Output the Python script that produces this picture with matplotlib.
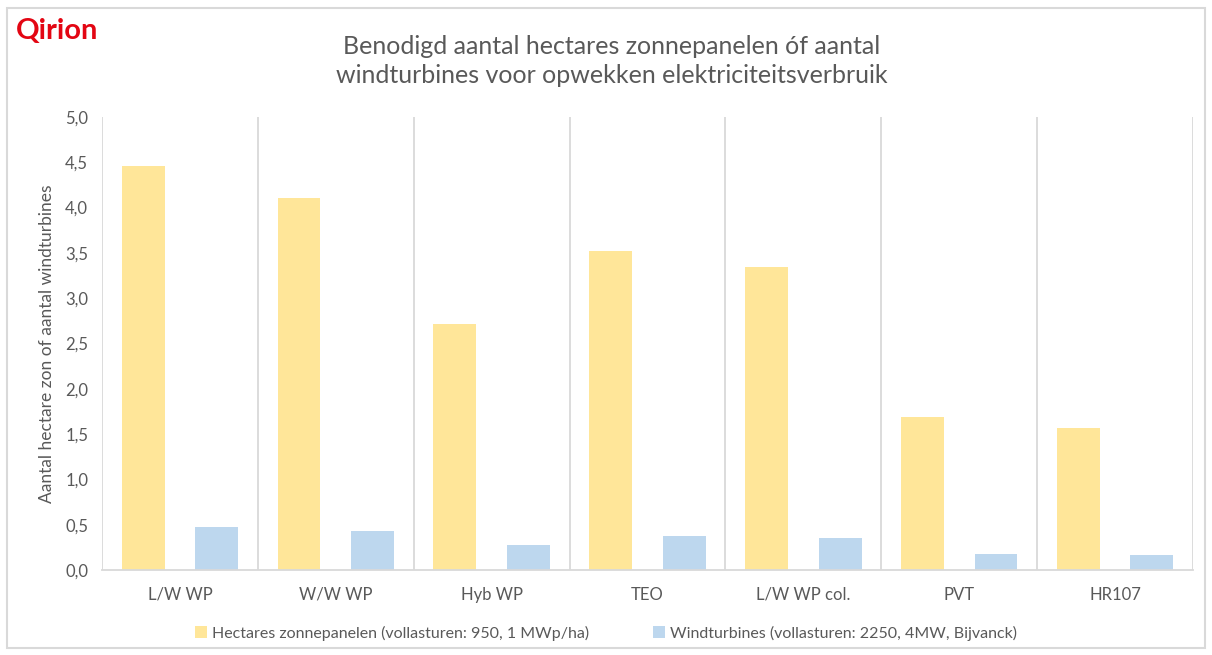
import matplotlib.pyplot as plt
import numpy as np
from matplotlib.patches import Rectangle

# data
categorieen = ["L/W WP", "W/W WP", "Hyb WP", "TEO", "L/W WP col.", "PVT", "HR107"]
zon_ha = [4.46, 4.11, 2.72, 3.52, 3.34, 1.69, 1.57]
windturbines = [0.47, 0.43, 0.28, 0.37, 0.35, 0.18, 0.165]
yticks = [0.0, 0.5, 1.0, 1.5, 2.0, 2.5, 3.0, 3.5, 4.0, 4.5, 5.0]
label_zon = "Hectares zonnepanelen (vollasturen: 950, 1 MWp/ha)"
label_wind = "Windturbines (vollasturen: 2250, 4MW, Bijvanck)"

plt.rcParams['font.family'] = ['Lato', 'DejaVu Sans']
grijs = "#595959"
lijn = "#d9d9d9"

fig = plt.figure(figsize=(12.12, 6.55), dpi=100)
ax = fig.add_axes([0.0842, 0.1298, 0.9001, 0.6916])

x = np.arange(len(categorieen))
b = 0.275
ax.bar(x - 0.236, zon_ha, b, color="#FFE699", label=label_zon, zorder=2)
ax.bar(x + 0.236, windturbines, b, color="#BDD7EE", label=label_wind, zorder=2)

ax.set_xlim(-0.5, len(categorieen) - 0.5)
ax.set_ylim(0, 5.0)
ax.set_yticks(yticks)
ax.set_yticklabels([f"{v:.1f}".replace(".", ",") for v in yticks])
ax.set_xticks(x)
ax.set_xticklabels(categorieen)
ax.tick_params(length=0, colors=grijs, labelsize=12)
ax.tick_params(axis="x", pad=12)
ax.tick_params(axis="y", pad=10)

# scheidingslijnen tussen categorieen
for s in np.arange(-0.5, len(categorieen), 1.0):
    ax.axvline(s, color=lijn, lw=1.3, zorder=1)

for k in ["top", "right", "left"]:
    ax.spines[k].set_visible(False)
ax.spines["bottom"].set_color(lijn)
ax.spines["bottom"].set_linewidth(1.3)

ax.set_ylabel("Aantal hectare zon of aantal windturbines", fontsize=12.5, color=grijs, labelpad=7)

fig.text(0.5045, 0.907, "Benodigd aantal hectares zonnepanelen óf aantal\nwindturbines voor opwekken elektriciteitsverbruik",
         ha="center", va="center", fontsize=18, color=grijs, linespacing=1.35)
fig.text(0.013, 0.952, "Qirion", ha="left", va="center", fontsize=21, color="#e30613", fontweight="bold")

fig.legend(loc="center", bbox_to_anchor=(0.5, 0.033), ncol=2, frameon=False, fontsize=11.5,
           handlelength=0.75, handleheight=0.75, handletextpad=0.3, columnspacing=4.0, labelcolor=grijs)

fig.patches.append(Rectangle((0.006, 0.011), 0.988, 0.977, transform=fig.transFigure,
                             fill=False, edgecolor=lijn, lw=1.5))

fig.savefig("out.png", dpi=100)
